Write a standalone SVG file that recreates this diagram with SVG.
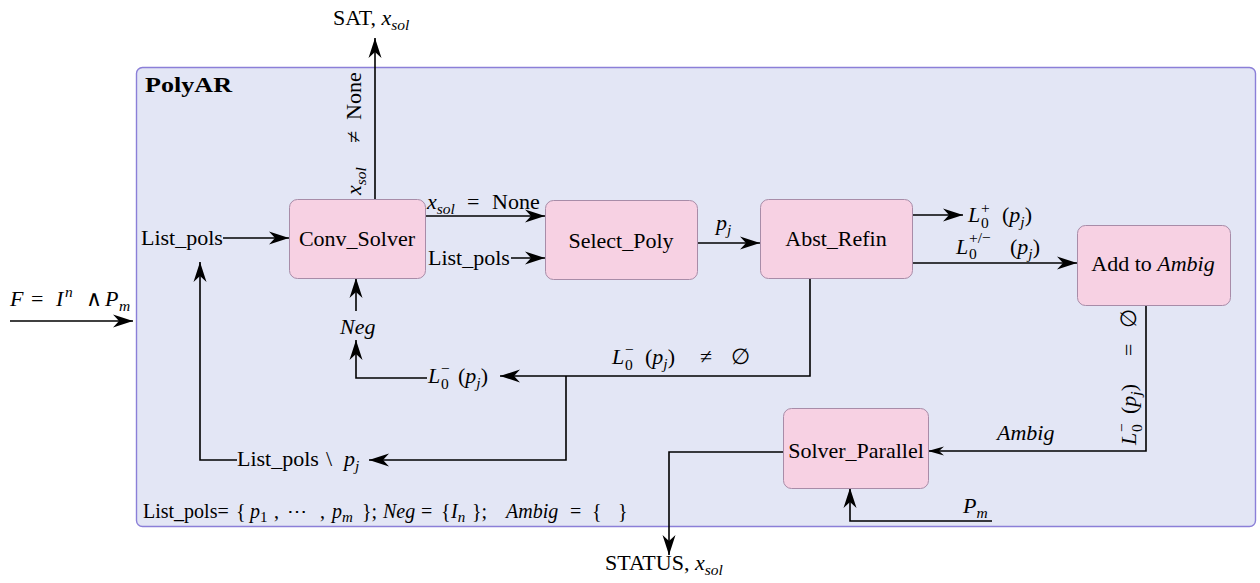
<svg xmlns="http://www.w3.org/2000/svg" width="1260" height="583" viewBox="0 0 1260 583">
<style>
text{font-family:"Liberation Serif","DejaVu Serif",serif;font-size:22px;fill:#000}
.i{font-style:italic}
.s{font-size:15.5px}
.c{text-anchor:middle}
.b{font-weight:bold}
.sm{font-size:20px}
.ss{font-size:15px}
.node{fill:#f7d1e3;stroke:#a88ca8;stroke-width:1}
.w{fill:none;stroke:#000;stroke-width:1.6}
</style>
<defs>
<marker id="a" markerUnits="userSpaceOnUse" markerWidth="24" markerHeight="16" viewBox="-21 -8 22 16" refX="0" refY="0" orient="auto">
<path d="M0,0 L-20,-6.5 L-14,0 L-20,6.5 Z" fill="#000"/>
</marker>
<marker id="a2" markerUnits="userSpaceOnUse" markerWidth="19" markerHeight="12" viewBox="-17 -6 18 12" refX="0" refY="0" orient="auto">
<path d="M0,0 L-16,-4.5 L-11,0 L-16,4.5 Z" fill="#000"/>
</marker>
</defs>
<rect id="polyar" x="136.5" y="67.5" width="1119" height="459" rx="6" fill="#e3e6f5" stroke="#8b7fd8" stroke-width="1.4"/>
<text class="b" x="145" y="92" textLength="87" lengthAdjust="spacingAndGlyphs">PolyAR</text>

<g id="connectors">
<path class="w" d="M375,199 V38" marker-end="url(#a)"/>
<path class="w" d="M223,238 H289" marker-end="url(#a)"/>
<path class="w" d="M237,460 H200 V262" marker-end="url(#a)"/>
<path class="w" d="M566,376 V460 H369" marker-end="url(#a)"/>
<path class="w" d="M810,278 V376 H500" marker-end="url(#a)"/>
<path class="w" d="M427,378 H356 V340" marker-end="url(#a)"/>
<path class="w" d="M356,311 V278" marker-end="url(#a)"/>
<path class="w" d="M425,216 H545" marker-end="url(#a)"/>
<path class="w" d="M511,258 H545" marker-end="url(#a)"/>
<path class="w" d="M697,243 H760" marker-end="url(#a)"/>
<path class="w" d="M912,215 H963" marker-end="url(#a)"/>
<path class="w" d="M912,263 H1077" marker-end="url(#a)"/>
<path class="w" d="M1146,305 V451 H928" marker-end="url(#a2)"/>
<path class="w" d="M783,452 H669 V555" marker-end="url(#a)"/>
<path class="w" d="M992,521 H850 V488" marker-end="url(#a)"/>
<path class="w" d="M10,321 H133" marker-end="url(#a)"/>
</g>

<g id="conv_solver">
<rect class="node" x="289.5" y="199.5" width="136" height="79" rx="8"/>
<text class="c" x="357" y="246">Conv_Solver</text>
</g>
<g id="select_poly">
<rect class="node" x="545.5" y="200.5" width="152" height="79" rx="8"/>
<text class="c" x="621" y="248">Select_Poly</text>
</g>
<g id="abst_refin">
<rect class="node" x="760.5" y="199.5" width="152" height="79" rx="8"/>
<text class="c" x="836" y="246">Abst_Refin</text>
</g>
<g id="add_ambig">
<rect class="node" x="1077.5" y="225.5" width="153" height="80" rx="8"/>
<text class="c" x="1153" y="271">Add to <tspan class="i">Ambig</tspan></text>
</g>
<g id="solver_parallel">
<rect class="node" x="783.5" y="408.5" width="145" height="80" rx="8"/>
<text class="c" x="856" y="458">Solver_Parallel</text>
</g>

<g id="labels">
<text x="333" y="25">SAT, <tspan class="i">x</tspan><tspan class="i s" dy="5">sol</tspan></text>
<text transform="translate(361,195) rotate(-90)"><tspan class="i">x</tspan><tspan class="i s" dy="5">sol</tspan><tspan x="52" y="0">≠</tspan><tspan x="75" y="0">None</tspan></text>
<text x="141" y="245">List_pols</text>
<text x="428" y="265">List_pols</text>
<text x="427" y="209"><tspan class="i">x</tspan><tspan class="i s" dy="5">sol</tspan><tspan x="467" y="209">=</tspan><tspan x="492" y="209">None</tspan></text>
<text x="716" y="230"><tspan class="i">p</tspan><tspan class="i s" dy="5">j</tspan></text>

<text x="968" y="222"><tspan class="i">L</tspan><tspan class="s" x="981" y="213">+</tspan><tspan class="s" x="981" y="228">0</tspan><tspan x="1002" y="222">(</tspan><tspan class="i">p</tspan><tspan class="i s" dy="5">j</tspan><tspan dy="-5">)</tspan></text>
<text x="956" y="254"><tspan class="i">L</tspan><tspan class="s" x="969" y="243">+/−</tspan><tspan class="s" x="969" y="259">0</tspan><tspan x="1010" y="254">(</tspan><tspan class="i">p</tspan><tspan class="i s" dy="5">j</tspan><tspan dy="-5">)</tspan></text>
<text x="612" y="364"><tspan class="i">L</tspan><tspan class="s" x="625" y="355">−</tspan><tspan class="s" x="625" y="370">0</tspan><tspan x="645" y="364">(</tspan><tspan class="i">p</tspan><tspan class="i s" dy="5">j</tspan><tspan dy="-5">)</tspan><tspan x="700" y="364">≠</tspan><tspan x="731" y="364">∅</tspan></text>
<text x="428" y="383"><tspan class="i">L</tspan><tspan class="s" x="441" y="374">−</tspan><tspan class="s" x="441" y="389">0</tspan><tspan x="458" y="383">(</tspan><tspan class="i">p</tspan><tspan class="i s" dy="5">j</tspan><tspan dy="-5">)</tspan></text>
<text transform="translate(1136,445) rotate(-90)"><tspan class="i">L</tspan><tspan class="s" x="13" y="-9">−</tspan><tspan class="s" x="13" y="6">0</tspan><tspan x="31" y="0">(</tspan><tspan class="i">p</tspan><tspan class="i s" dy="5">j</tspan><tspan dy="-5">)</tspan><tspan x="89" y="0">=</tspan><tspan x="117" y="0">∅</tspan></text>

<text class="i" x="340" y="334">Neg</text>
<text x="237" y="466">List_pols<tspan x="326" y="466">\</tspan><tspan class="i" x="344" y="466">p</tspan><tspan class="i s" dy="5">j</tspan></text>
<text class="i" x="997" y="440">Ambig</text>
<text x="963" y="513"><tspan class="i">P</tspan><tspan class="i s" dy="5">m</tspan></text>
<text x="10" y="306"><tspan class="i">F</tspan><tspan x="31" y="306">=</tspan><tspan class="i" x="56" y="306">I</tspan><tspan class="i s" x="65" y="297">n</tspan><tspan x="86" y="306">∧</tspan><tspan class="i" x="105" y="306">P</tspan><tspan class="i s" x="119" y="311">m</tspan></text>

<text class="sm" x="143" y="518">List_pols=<tspan x="236" y="518">{</tspan><tspan class="i" x="250" y="518">p</tspan><tspan class="ss" dy="4">1</tspan><tspan x="274" y="518">,</tspan><tspan x="287" y="518">⋯</tspan><tspan x="320" y="518">,</tspan><tspan class="i" x="332" y="518">p</tspan><tspan class="i ss" dy="4">m</tspan><tspan x="362" y="518">};</tspan><tspan class="i" x="383" y="518">Neg</tspan><tspan x="421" y="518">=</tspan><tspan x="441" y="518">{</tspan><tspan class="i" x="451" y="518">I</tspan><tspan class="i ss" dy="4">n</tspan><tspan x="472" y="518">};</tspan><tspan class="i" x="506" y="518">Ambig</tspan><tspan x="570" y="518">=</tspan><tspan x="592" y="518">{</tspan><tspan x="618" y="518">}</tspan></text>
<text x="605" y="570">STATUS, <tspan class="i">x</tspan><tspan class="i s" dy="5">sol</tspan></text>
</g>
</svg>
